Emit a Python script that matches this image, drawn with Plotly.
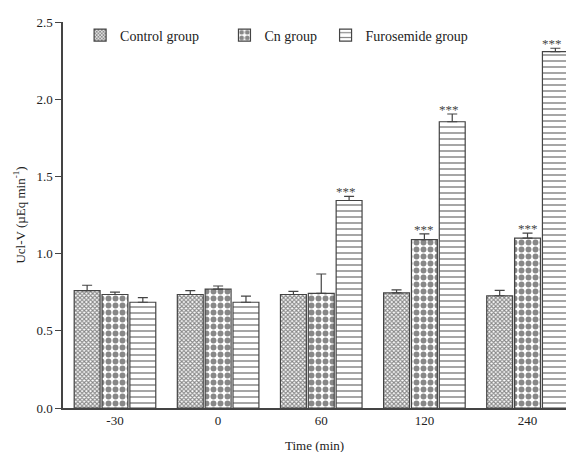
import plotly.graph_objects as go

categories = ["-30", "0", "60", "120", "240"]
control = [0.76, 0.735, 0.735, 0.745, 0.727]
control_err = [0.035, 0.025, 0.02, 0.02, 0.035]
cn = [0.735, 0.77, 0.743, 1.09, 1.10]
cn_err = [0.015, 0.02, 0.125, 0.038, 0.033]
furo = [0.685, 0.685, 1.344, 1.854, 2.308]
furo_err = [0.03, 0.04, 0.026, 0.05, 0.022]
sig_cn = ["", "", "", "***", "***"]
sig_furo = ["", "", "***", "***", "***"]

FONT = "Liberation Serif"
LINE = "#444444"

fig = go.Figure()

def add_bar(name, vals, errs, shape, size, solidity, legend):
    fig.add_trace(go.Bar(
        name=name, x=categories, y=vals,
        marker=dict(color="white", line=dict(color=LINE, width=1.2),
                    pattern=dict(shape=shape, size=size, solidity=solidity,
                                 fgcolor="#111111", fillmode="overlay")),
        error_y=dict(type="data", array=errs, arrayminus=[0] * len(errs),
                     symmetric=False, color=LINE, thickness=1.2, width=5),
        legend=legend, showlegend=True,
    ))

add_bar("Control group", control, control_err, "x", 3, 0.6, "legend")
add_bar("Cn group", cn, cn_err, ".", 7, 0.55, "legend2")
add_bar("Furosemide group", furo, furo_err, "-", 6, 0.25, "legend3")

slot = 0.81 / 3
for i, c in enumerate(categories):
    if sig_cn[i]:
        fig.add_annotation(x=i, y=cn[i] + cn_err[i], text=sig_cn[i], showarrow=False,
                           yanchor="bottom", yshift=-5, font=dict(family=FONT, size=13, color="#444"))
    if sig_furo[i]:
        fig.add_annotation(x=i + slot, y=furo[i] + furo_err[i], text=sig_furo[i], showarrow=False,
                           xshift=-3, yanchor="bottom", yshift=-5,
                           font=dict(family=FONT, size=13, color="#444"))

fig.add_annotation(x=0.5, xref="paper", y=-0.098, yref="paper", text="Time (min)",
                   showarrow=False, yanchor="middle",
                   font=dict(family=FONT, size=13, color="#222"))

legfont = dict(family=FONT, size=14, color="#222")
legcommon = dict(orientation="h", yanchor="middle", xanchor="left", font=legfont,
                 bgcolor="rgba(0,0,0,0)", borderwidth=0, itemwidth=30, visible=True)

fig.update_layout(
    width=566, height=452,
    margin=dict(l=63, r=0, t=22, b=44, autoexpand=False),
    paper_bgcolor="white", plot_bgcolor="white",
    showlegend=True,
    barmode="group", bargap=0.19, bargroupgap=0.07,
    font=dict(family=FONT, size=13, color="#222"),
    legend=dict(x=0.034, y=0.965, **legcommon),
    legend2=dict(x=0.321, y=0.965, **legcommon),
    legend3=dict(x=0.522, y=0.965, **legcommon),
    xaxis=dict(type="category", range=[-0.504, 4.373], showline=True, linecolor=LINE,
               linewidth=1.5, ticks="", showgrid=False, zeroline=False, automargin=False,
               tickfont=dict(family=FONT, size=13, color="#222")),
    yaxis=dict(range=[0, 2.5], dtick=0.5, tickformat=".1f", showline=True, linecolor=LINE,
               linewidth=1.5, ticks="outside", ticklen=6, tickcolor=LINE, showgrid=False,
               zeroline=False, automargin=False, tickfont=dict(family=FONT, size=13, color="#222"),
               title=dict(text="Ucl-V (µEq min<sup>-1</sup>)", standoff=8,
                          font=dict(family=FONT, size=13, color="#222"))),
)

fig.write_html("out.html", config={"displayModeBar": False},
               post_script="document.body.style.margin='0';document.body.style.overflow='hidden';")
